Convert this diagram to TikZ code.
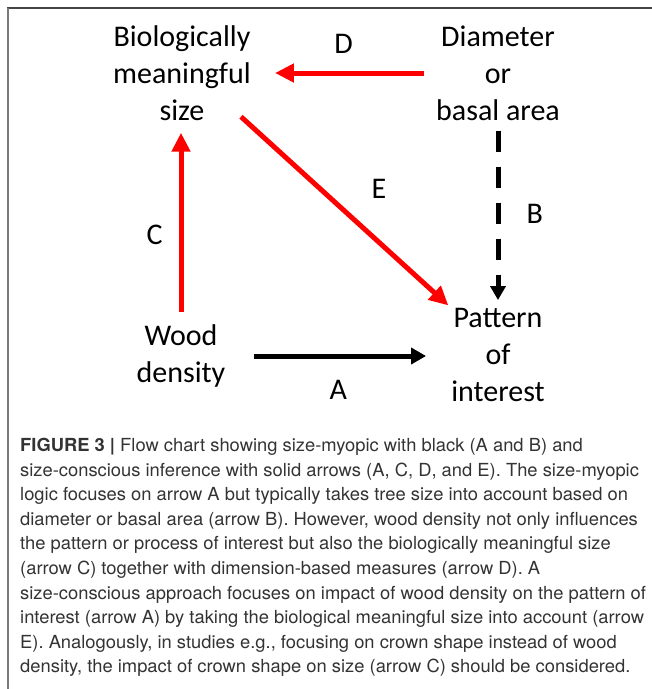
\documentclass[tikz,border=0pt]{standalone}
\usepackage{fontspec}
\setmainfont{Carlito}
\newfontfamily\leyenda[FakeStretch=1.02]{TeX Gyre Heros}
\usetikzlibrary{arrows.meta, calc}
\definecolor{rojo}{HTML}{FF0000}
\definecolor{marcoarriba}{HTML}{454545}
\definecolor{marcoizq}{HTML}{7A7A7A}
\definecolor{textoley}{HTML}{333333}

\begin{document}
\begin{tikzpicture}[x=1pt, y=-1pt, font=\fontsize{30}{37}\selectfont,
			bloque/.style={align=center, inner sep=2pt},
			letra/.style={inner sep=0pt, text=black, font=\fontsize{30}{37}\selectfont},
			roja/.style={-{Triangle[length=19pt, width=18pt]}, rojo, line width=5pt},
			negra/.style={-{Triangle[length=15pt, width=16pt]}, black, line width=5pt},
			discontinua/.style={-{Triangle[length=14pt, width=15pt]}, black, line width=5pt,
			                    dash pattern=on 21pt off 15pt}]
			\useasboundingbox (0,0) rectangle (652,689);
			% marco
			\draw[marcoarriba, line width=2pt] (7,8) -- (652,8);
			\draw[marcoizq, line width=2pt] (7.5,8) -- (7.5,689);
			% nodos
			\node[bloque] (bio) at (182,73) {Biologically\\meaningful\\size};
			\node[bloque] (dia) at (498,73) {Diameter\\or\\basal area};
			\node[bloque] (mad) at (181,356) {Wood\\density};
			\node[bloque] (pat) at (498,355) {Pattern\\of\\interest};
			% flechas
			\draw[roja, shorten <=10pt, shorten >=22pt] (dia.west) -- (bio.east)
				node[letra, midway, above=17pt] {D};
			\draw[roja, shorten <=10pt, shorten >=10pt] (mad.north) -- (mad.north |- bio.south)
				node[letra, pos=0.44, left=16pt] {C};
			\draw[roja, shorten >=1pt] ($(bio.south east)+(-12,-6)$) -- (pat.north west)
				node[letra, midway, anchor=south west, xshift=24pt, yshift=10pt] {E};
			\draw[discontinua, shorten <=8pt, shorten >=6pt] (dia.south) -- (pat.north)
				node[letra, midway, right=26pt] {B};
			\draw[negra, shorten <=26pt, shorten >=23pt] (mad.east) -- (mad.east -| pat.west)
				node[letra, midway, below=22pt] {A};
			% leyenda
			\node[anchor=north west, align=left, inner sep=0pt, text=textoley,
			      font=\leyenda\fontsize{18}{24.6}\selectfont] (ley) at (20,438)
				{\textbf{FIGURE 3 |} Flow chart showing size-myopic with black (A and B) and\\
				 size-conscious inference with solid arrows (A, C, D, and E). The size-myopic\\
				 logic focuses on arrow A but typically takes tree size into account based on\\
				 diameter or basal area (arrow B). However, wood density not only influences\\
				 the pattern or process of interest but also the biologically meaningful size\\
				 (arrow C) together with dimension-based measures (arrow D). A\\
				 size-conscious approach focuses on impact of wood density on the pattern of\\
				 interest (arrow A) by taking the biological meaningful size into account (arrow\\
				 E). Analogously, in studies e.g., focusing on crown shape instead of wood\\
				 density, the impact of crown shape on size (arrow C) should be considered.};
		\end{tikzpicture}
\end{document}
